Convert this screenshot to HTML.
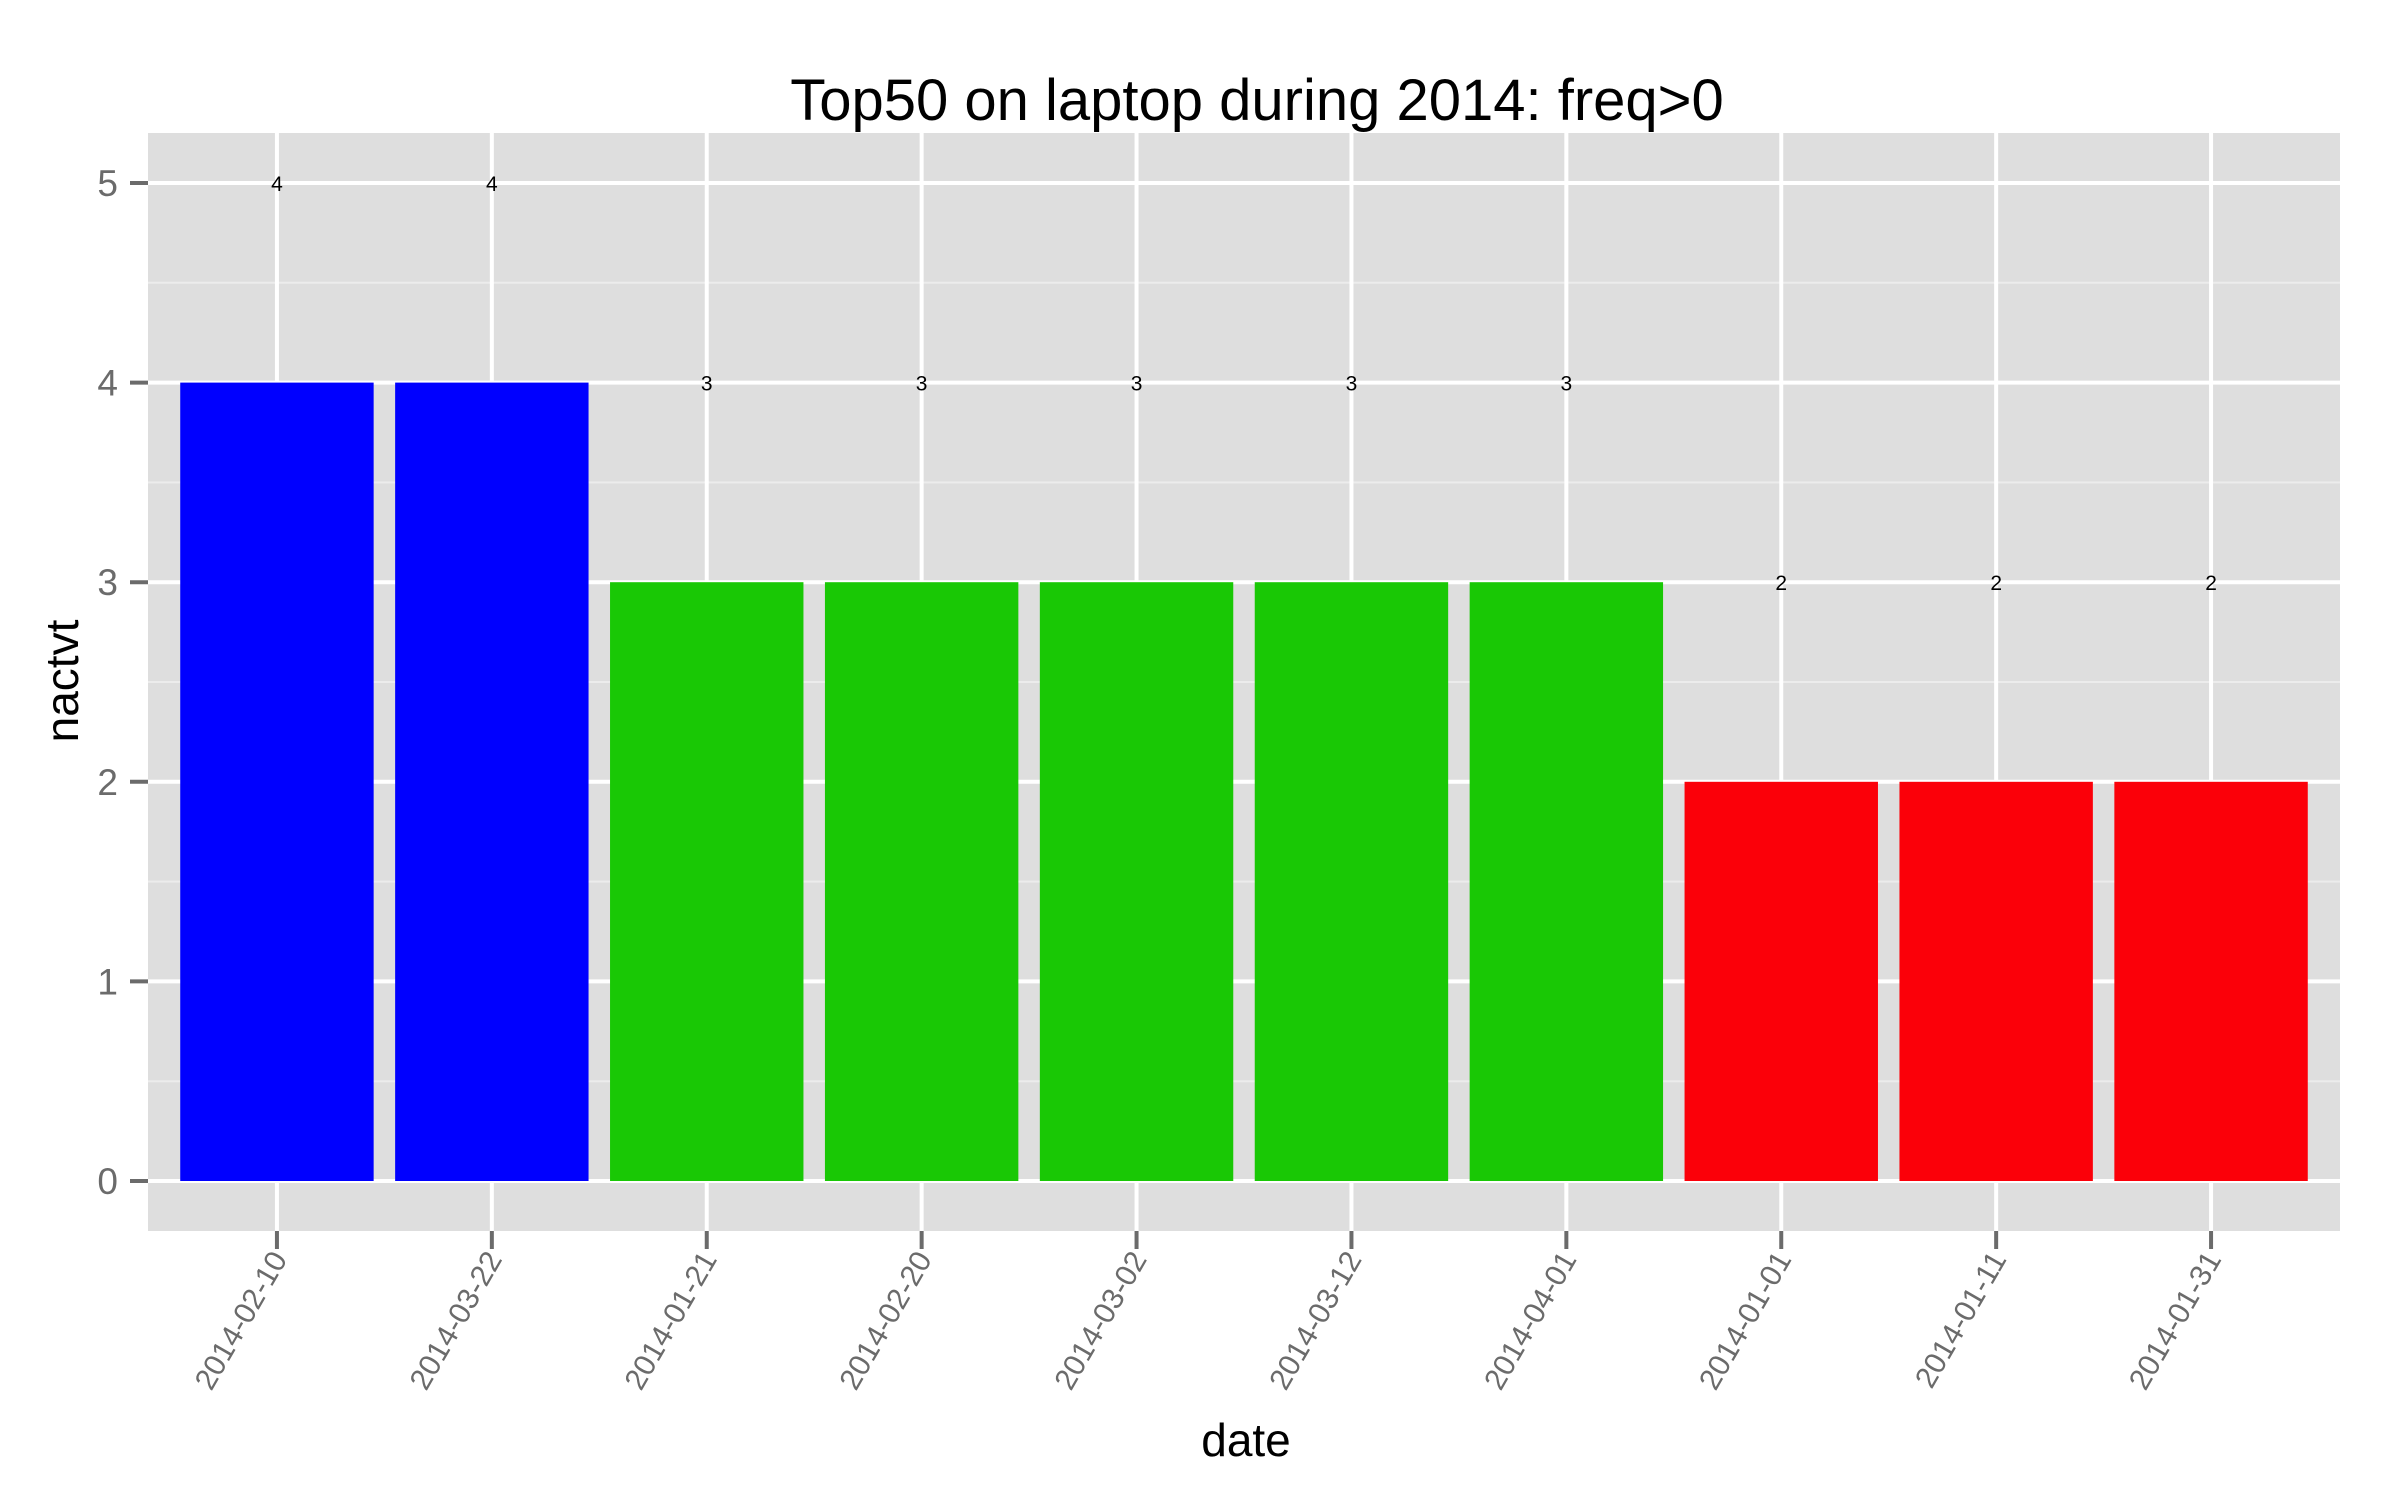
<!DOCTYPE html>
<html><head><meta charset="utf-8">
<style>
html,body{margin:0;padding:0;background:#fff;}
svg{display:block;font-family:"Liberation Sans",sans-serif;}
</style></head>
<body>
<svg id="chart" width="2400" height="1500" viewBox="0 0 2400 1500" xmlns="http://www.w3.org/2000/svg">
<text x="1257" y="120" font-size="58" text-anchor="middle" fill="#000">Top50 on laptop during 2014: freq&gt;0</text>
<text x="1246" y="1456" font-size="46" text-anchor="middle" fill="#000">date</text>
<text transform="translate(78,681) rotate(-90)" font-size="46" text-anchor="middle" fill="#000">nactvt</text>
<g id="plot"></g>
</svg>
<script>
const categories = ["2014-02-10","2014-03-22","2014-01-21","2014-02-20","2014-03-02","2014-03-12","2014-04-01","2014-01-01","2014-01-11","2014-01-31"];
const values = [4,4,3,3,3,3,3,2,2,2];
const barLabels = ["4","4","3","3","3","3","3","2","2","2"];
const yTicks = [0,1,2,3,4,5];
const colorByValue = {4:"#0000FF",3:"#19C805",2:"#FB0009"};

const NS = "http://www.w3.org/2000/svg";
const L = 148, R = 2340, T = 133, B = 1231;
const Y0 = 1181, UNIT = 199.6;
const step = (R - L) / (categories.length - 1 + 1.2);
function xc(i){ return L + step * (0.6 + i); }
function yv(v){ return Y0 - v * UNIT; }
const g = document.getElementById('plot');
function mk(tag, attrs){ const e = document.createElementNS(NS, tag); for (const k in attrs) e.setAttribute(k, attrs[k]); g.appendChild(e); return e; }

const panel = mk('rect', {x:L, y:T, width:R-L, height:B-T, fill:"#dedede"});



for (let k = 0; k < yTicks.length; k++) {
  const v = yTicks[k] + 0.5;
  if (yv(v) < T) continue;
  const ln = mk('line', {x1:L, x2:R, y1:yv(v), y2:yv(v), stroke:"#ececec", "stroke-width":2});
  
  
}
yTicks.forEach(v => {
  const y = yv(v);
  const ln = mk('line', {x1:L, x2:R, y1:y, y2:y, stroke:"#fff", "stroke-width":4});
  
  
  const tk = mk('line', {x1:L-18, x2:L, y1:y, y2:y, stroke:"#6b6b6b", "stroke-width":4});
  
  
  const t = mk('text', {x:L-30, y:y+13, "font-size":37, fill:"#6b6b6b", "text-anchor":"end"});
  t.textContent = v;
  
  
});
categories.forEach((c, i) => {
  const ln = mk('line', {x1:xc(i), x2:xc(i), y1:T, y2:B, stroke:"#fff", "stroke-width":4});
  
  
});
categories.forEach((c, i) => {
  const v = values[i];
  const bw = step * 0.9;
  const bar = mk('rect', {x:xc(i)-bw/2, y:yv(v), width:bw, height:Y0-yv(v), fill:colorByValue[v] || "#888"});
  
  
  const lab = mk('text', {x:xc(i), y:yv(v+1)+8, "font-size":21, "text-anchor":"middle", fill:"#000"});
  lab.textContent = barLabels[i];
  
  
  const tk = mk('line', {x1:xc(i), x2:xc(i), y1:B, y2:B+18, stroke:"#6b6b6b", "stroke-width":4});
  
  
  const xl = mk('text', {transform:`translate(${xc(i)+11},${B+28}) rotate(-60)`, "font-size":30, fill:"#6b6b6b", "text-anchor":"end"});
  xl.textContent = c;
  
  
});
</script>
</body></html>
